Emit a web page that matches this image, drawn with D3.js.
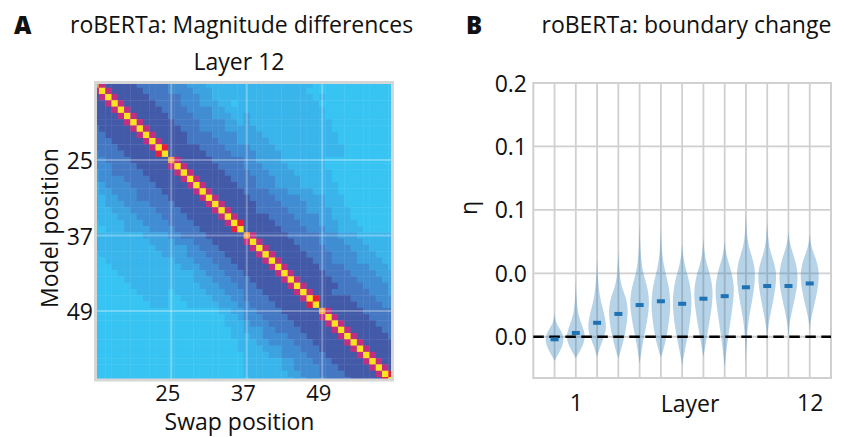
<!DOCTYPE html>
<html>
<head>
<meta charset="utf-8">
<style>
  body { margin: 0; background: #ffffff; }
  text {
    font-family: "Open Sans", sans-serif;
    font-size: 23px;
    fill: #111111;
  }
  .panel { font-weight: 800; font-size: 24px; }
  .grid line { stroke: #d0d0d0; stroke-width: 1.8; }
  .xtickA text { font-size: 22px; }
</style>
<script src="https://cdnjs.cloudflare.com/ajax/libs/d3/7.8.5/d3.min.js"></script>
</head>
<body>
<svg id="fig" width="844" height="437"></svg>
<script>
// ---- panel A data: magnitude differences, layer 12 (levels 0..9 per cell) ----
var swapPositions = d3.range(13, 61);
var positionTicks = [25, 37, 49];
var magnitudeRows = [
  "865555544444 333222111111 111111111110 000000000000",
  "696555554444 333322211111 111111111100 000000000000",
  "569655555444 443332211111 111111111110 100000000000",
  "556965555544 443332221101 111111111111 000000000000",
  "555696555554 444333322111 111111111111 100000000000",
  "555569655555 444433322211 211111111111 100000000000",
  "555556965555 544443333221 211111111111 110000000000",
  "455555696555 554443333222 221111111111 110000000000",
  "445555569655 555444433332 222111111111 111000000000",
  "444555556965 555444443332 222211111111 111000000000",
  "444455555697 555554444333 322221111111 111100000000",
  "344445555579 555555444433 332222111111 111100000000",
  "334444555555 865555544444 332222111111 100000000000",
  "333444455555 696555554444 333222211111 100000000000",
  "233444445555 569655555444 433322221111 110000000000",
  "233334444555 556965555544 443332222111 110000000000",
  "123333444455 555696555554 443332222111 111000000000",
  "122333344445 555569655555 444433322221 111000000000",
  "112233344444 555556965555 544443333222 211100000000",
  "112223333444 455555696555 554444333322 211100000000",
  "111222333344 445555569655 554444433322 221110000000",
  "111122233334 444555556965 555544443333 221110000000",
  "011112223333 444455555697 555554444333 222111000000",
  "001112222333 344445555579 555555444433 322111100000",
  "111111112222 334444555555 865555544444 333222111111",
  "111111111222 233344455555 696555554444 333322211111",
  "111111111122 222334445555 569655555444 433332221111",
  "011111111112 222333444555 556965555544 443333222111",
  "001111111111 122233344455 555696555554 443333222211",
  "000111111111 112223334445 555569655555 444433332221",
  "000011111111 111122333444 555556965555 544443333222",
  "000001111111 111122233344 455555696555 554444333322",
  "000000111111 111112223334 445555569655 555444433332",
  "000000011111 011111222333 444555556965 554444443332",
  "000000001111 001111122233 444455555697 555554444333",
  "000000000111 000111112223 344445555579 555555444433",
  "000000000000 000000001122 334444555555 865555544444",
  "000000000000 000000000112 333444455555 696555554444",
  "000000000000 000000000111 233344445555 569655555444",
  "000000000000 000000000011 222334444555 556965555544",
  "000000000000 000000000011 122333344455 555696555554",
  "000000000000 000000000001 112233334445 555569655555",
  "000000000000 000000000001 111222333444 555556965555",
  "000000000000 000000000000 111122333344 455555696555",
  "000000000000 000000000000 111111223334 445555569655",
  "000000000000 000000000000 111111223333 444555556965",
  "000000000000 000000000000 111111122333 444455555697",
  "000000000000 000000000000 011111112233 344445555579"
];

// ---- panel B data: boundary change per layer ----
var layers = [0, 1, 2, 3, 4, 5, 6, 7, 8, 9, 10, 11, 12];
var layerTickValues = [1, 12];
var layerTickLabels = ["1", "12"];
var etaTicks = [0, 0.05, 0.1, 0.15, 0.2];
var etaTickLabels = ["0.0", "0.0", "0.1", "0.1", "0.2"];
var etaMedians = [-0.002, 0.003, 0.011, 0.018, 0.025, 0.028, 0.026, 0.030, 0.032, 0.039, 0.040, 0.040, 0.042];
// [eta, relative density] along each violin
var violinProfiles = [
  [[-0.019,0],[-0.0155,0.25],[-0.008,0.8],[-0.002,1],[0.004,0.75],[0.009,0.3],[0.013,0.08],[0.019,0]],
  [[-0.017,0],[-0.013,0.3],[-0.006,0.8],[0.001,1],[0.008,0.7],[0.017,0.25],[0.028,0.08],[0.044,0]],
  [[-0.016,0],[-0.008,0.3],[0.0,0.75],[0.008,1],[0.018,0.75],[0.03,0.3],[0.045,0.08],[0.062,0]],
  [[-0.017,0],[-0.010,0.3],[0.002,0.7],[0.014,0.95],[0.023,1],[0.032,0.75],[0.040,0.3],[0.052,0.08],[0.068,0]],
  [[-0.021,0],[-0.008,0.25],[0.005,0.6],[0.02,0.95],[0.029,1],[0.04,0.8],[0.05,0.35],[0.065,0.08],[0.091,0]],
  [[-0.016,0],[-0.010,0.3],[0.004,0.7],[0.018,0.95],[0.027,1],[0.04,0.85],[0.054,0.35],[0.067,0.08],[0.086,0]],
  [[-0.022,0],[-0.010,0.3],[0.005,0.7],[0.02,0.95],[0.031,1],[0.044,0.75],[0.054,0.35],[0.063,0.1],[0.073,0]],
  [[-0.016,0],[-0.005,0.25],[0.01,0.6],[0.025,0.9],[0.036,1],[0.048,0.75],[0.057,0.35],[0.066,0.1],[0.078,0]],
  [[-0.024,0],[-0.006,0.25],[0.012,0.6],[0.028,0.9],[0.039,1],[0.05,0.75],[0.06,0.35],[0.067,0.1],[0.076,0]],
  [[-0.021,0],[0.0,0.08],[0.015,0.3],[0.03,0.7],[0.047,1],[0.058,0.85],[0.068,0.4],[0.078,0.1],[0.097,0]],
  [[-0.003,0],[0.008,0.1],[0.018,0.35],[0.033,0.75],[0.047,1],[0.057,0.8],[0.066,0.35],[0.076,0.1],[0.091,0]],
  [[0.0,0],[0.01,0.1],[0.02,0.35],[0.033,0.75],[0.045,1],[0.057,0.85],[0.067,0.4],[0.075,0.1],[0.083,0]],
  [[0.005,0],[0.013,0.1],[0.021,0.35],[0.034,0.75],[0.047,1],[0.057,0.85],[0.066,0.4],[0.073,0.1],[0.081,0]]
];

var svg = d3.select("#fig");

// ================= panel A =================
var levelColor = d3.scaleOrdinal()
  .domain([0, 1, 2, 3, 4, 5, 6, 7, 8, 9])
  .range(["#37c4f2", "#39b5ec", "#3ca3e0", "#408dd3", "#4578c3", "#425aa8",
          "#c42d80", "#e61f3d", "#f0a040", "#f9e51f"]);

var hx = d3.scaleBand().domain(swapPositions).range([92.6, 394.6]);
var hy = d3.scaleBand().domain(swapPositions).range([81.4, 383.3]);

var cells = [];
magnitudeRows.forEach(function(row, i) {
  row.replace(/ /g, "").split("").forEach(function(ch, j) {
    cells.push({ row: swapPositions[i], col: swapPositions[j], level: +ch });
  });
});

svg.append("clipPath").attr("id", "hmclip")
  .append("rect").attr("x", 95).attr("y", 82).attr("width", 298).attr("height", 298);

var hm = svg.append("g").attr("clip-path", "url(#hmclip)");
hm.selectAll("rect.cell").data(cells).enter().append("rect")
  .attr("class", "cell")
  .attr("x", function(d) { return hx(d.col); })
  .attr("y", function(d) { return hy(d.row); })
  .attr("width", hx.bandwidth() + 0.4)
  .attr("height", hy.bandwidth() + 0.4)
  .attr("fill", function(d) { return levelColor(d.level); });

// pale lines at the sentence boundaries
hm.selectAll("line.vx").data(positionTicks).enter().append("line")
  .attr("x1", function(d) { return hx(d) + hx.bandwidth() / 2; })
  .attr("x2", function(d) { return hx(d) + hx.bandwidth() / 2; })
  .attr("y1", 82).attr("y2", 380)
  .attr("stroke", "#ffffff").attr("stroke-opacity", 0.3).attr("stroke-width", 2);
hm.selectAll("line.hy").data(positionTicks).enter().append("line")
  .attr("y1", function(d) { return hy(d) + hy.bandwidth() / 2; })
  .attr("y2", function(d) { return hy(d) + hy.bandwidth() / 2; })
  .attr("x1", 95).attr("x2", 393)
  .attr("stroke", "#ffffff").attr("stroke-opacity", 0.3).attr("stroke-width", 2);

svg.append("rect")
  .attr("x", 95.5).attr("y", 82.5).attr("width", 297).attr("height", 297.5)
  .attr("fill", "none").attr("stroke", "#d6d6d6").attr("stroke-width", 3);

var axA_y = svg.append("g").attr("transform", "translate(95,0)")
  .call(d3.axisLeft(hy).tickValues(positionTicks).tickSize(0).tickPadding(2));
axA_y.select(".domain").remove();
axA_y.selectAll("text").attr("dy", "0.4em");

var axA_x = svg.append("g").attr("class", "xtickA").attr("transform", "translate(0,380)")
  .call(d3.axisBottom(hx).tickValues(positionTicks).tickSize(0).tickPadding(5));
axA_x.select(".domain").remove();
axA_x.selectAll("text").attr("dx", -3.5);

svg.append("text").attr("class", "panel").attr("x", 14).attr("y", 34).text("A");
svg.append("text").attr("x", 70).attr("y", 33).text("roBERTa: Magnitude differences");
svg.append("text").attr("x", 239).attr("y", 70).attr("text-anchor", "middle").text("Layer 12");
svg.append("text").attr("x", 239.5).attr("y", 430).attr("text-anchor", "middle").text("Swap position");
svg.append("text").attr("transform", "translate(58,228) rotate(-90)")
  .attr("text-anchor", "middle").text("Model position");

// ================= panel B =================
var xB = d3.scalePoint().domain(layers).range([533.3, 831]).padding(1);
var yB = d3.scaleLinear().domain([-0.0325, 0.2]).range([378, 83]);

var grid = svg.append("g").attr("class", "grid");
grid.selectAll("line.v").data(layers).enter().append("line")
  .attr("x1", function(d) { return xB(d); }).attr("x2", function(d) { return xB(d); })
  .attr("y1", 83).attr("y2", 378);
grid.selectAll("line.h").data(etaTicks).enter().append("line")
  .attr("y1", function(d) { return yB(d); }).attr("y2", function(d) { return yB(d); })
  .attr("x1", 533.3).attr("x2", 831);
svg.append("rect")
  .attr("x", 533.3).attr("y", 83).attr("width", 297.7).attr("height", 295)
  .attr("fill", "none").attr("stroke", "#d0d0d0").attr("stroke-width", 2);

var halfW = 9.6;
svg.append("g").selectAll("path").data(layers).enter().append("path")
  .attr("fill", "#1f77b4").attr("fill-opacity", 0.32)
  .attr("d", function(l) {
    var cx = xB(l);
    return d3.area()
      .y(function(p) { return yB(p[0]); })
      .x0(function(p) { return cx - p[1] * halfW; })
      .x1(function(p) { return cx + p[1] * halfW; })
      .curve(d3.curveBasis)(violinProfiles[l]);
  });

svg.append("line")
  .attr("x1", 533.3).attr("x2", 831)
  .attr("y1", yB(0)).attr("y2", yB(0))
  .attr("stroke", "#000000").attr("stroke-width", 2.6)
  .attr("stroke-dasharray", "10.5,5.5");

svg.append("g").selectAll("rect").data(layers).enter().append("rect")
  .attr("x", function(l) { return xB(l) - 4; })
  .attr("y", function(l) { return yB(etaMedians[l]) - 2; })
  .attr("width", 8).attr("height", 4)
  .attr("fill", "#1f72b4");

var axB_y = svg.append("g").attr("transform", "translate(533,0)")
  .call(d3.axisLeft(yB).tickValues(etaTicks)
    .tickFormat(function(d, i) { return etaTickLabels[i]; })
    .tickSize(0).tickPadding(6));
axB_y.select(".domain").remove();
axB_y.selectAll("text").attr("dy", "0.35em");

var axB_x = svg.append("g").attr("transform", "translate(0,378)")
  .call(d3.axisBottom(xB).tickValues(layerTickValues)
    .tickFormat(function(d, i) { return layerTickLabels[i]; })
    .tickSize(0).tickPadding(17));
axB_x.select(".domain").remove();

svg.append("text").attr("class", "panel").attr("x", 466).attr("y", 34).text("B");
svg.append("text").attr("x", 541.5).attr("y", 33).text("roBERTa: boundary change");
svg.append("text").attr("x", 690).attr("y", 411.5).attr("text-anchor", "middle").text("Layer");
svg.append("text").attr("transform", "translate(477,208) rotate(-90)")
  .attr("text-anchor", "middle").text("η");
</script>
</body>
</html>
